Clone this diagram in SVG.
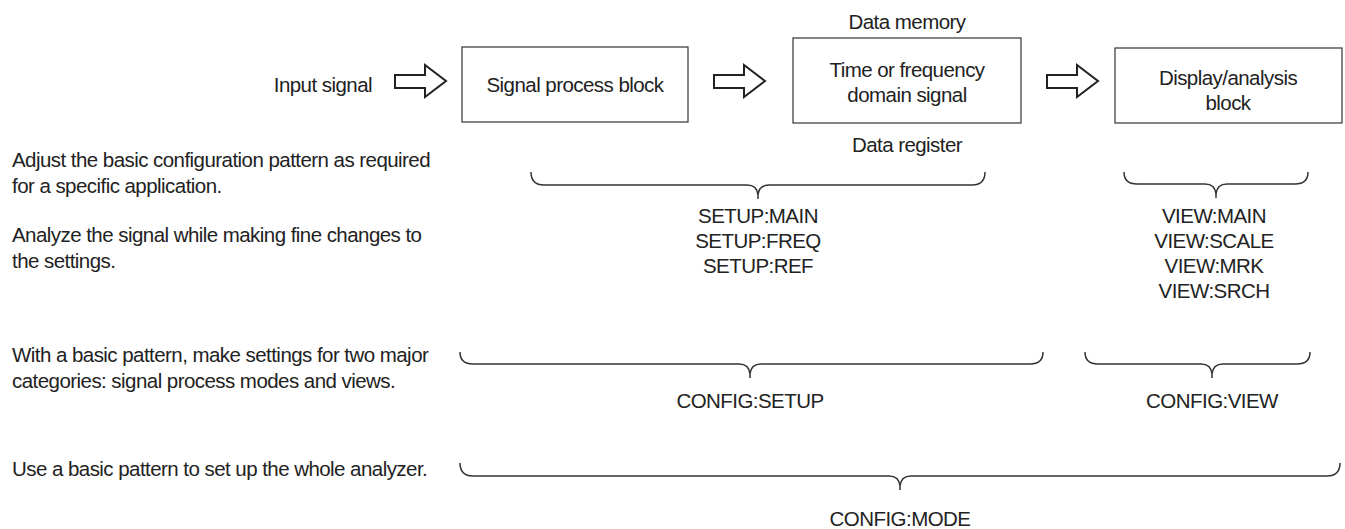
<svg xmlns="http://www.w3.org/2000/svg" width="1345" height="529" viewBox="0 0 1345 529">
<style>
text{font-family:"Liberation Sans",Arial,sans-serif;font-size:20.5px;letter-spacing:-0.55px;fill:#222}
.c{text-anchor:middle}
.e{text-anchor:end}
.box{fill:#fff;stroke:#333;stroke-width:1.2}
.arr{fill:#fff;stroke:#222;stroke-width:2;stroke-linejoin:miter}
.br{fill:none;stroke:#333;stroke-width:1.5}
</style>
<rect width="1345" height="529" fill="#fff"/>
<g id="input"><text class="e" x="372" y="92">Input signal</text></g>
<g id="signal-process"><rect class="box" x="462" y="47" width="226" height="75"/><text class="c" x="575" y="92">Signal process block</text></g>
<g id="data-memory"><text class="c" x="907" y="29">Data memory</text>
<rect class="box" x="793" y="38" width="228" height="85"/>
<text class="c" x="907" y="77">Time or frequency</text><text class="c" x="907" y="102">domain signal</text>
<text class="c" x="907" y="152">Data register</text></g>
<g id="display"><rect class="box" x="1115" y="48" width="227" height="75"/><text class="c" x="1228" y="85">Display/analysis</text><text class="c" x="1228" y="110">block</text></g>
<g id="connectors">
<path class="arr" d="M395 75 H425 V65 L446 81 L425 97 V88 H395 Z"/>
<path class="arr" d="M714 75 H744 V65 L765 81 L744 97 V88 H714 Z"/>
<path class="arr" d="M1047 75 H1077 V65 L1098 81 L1077 97 V88 H1047 Z"/>
<path class="br" d="M531 172 Q531 185 544 185 L747 185 Q757 185 758 195 L758 199 M985 172 Q985 185 972 185 L769 185 Q759 185 758 195"/>
<path class="br" d="M1124 172 Q1124 184 1137 184 L1205 184 Q1215 184 1216 194 L1216 198 M1308 172 Q1308 184 1295 184 L1227 184 Q1217 184 1216 194"/>
<path class="br" d="M460 352 Q460 364 473 364 L739 364 Q749 364 750 374 L750 378 M1043 352 Q1043 364 1030 364 L761 364 Q751 364 750 374"/>
<path class="br" d="M1085 352 Q1085 364 1098 364 L1201 364 Q1211 364 1212 374 L1212 378 M1310 352 Q1310 364 1297 364 L1223 364 Q1213 364 1212 374"/>
<path class="br" d="M460 463 Q460 476 473 476 L889 476 Q899 476 900 486 L900 490 M1340 463 Q1340 476 1327 476 L911 476 Q901 476 900 486"/>
</g>
<g id="setup-list"><text class="c" x="758" y="223">SETUP:MAIN</text><text class="c" x="758" y="248">SETUP:FREQ</text><text class="c" x="758" y="273">SETUP:REF</text></g>
<g id="view-list"><text class="c" x="1214" y="223">VIEW:MAIN</text><text class="c" x="1214" y="248">VIEW:SCALE</text><text class="c" x="1214" y="273">VIEW:MRK</text><text class="c" x="1214" y="298">VIEW:SRCH</text></g>
<g id="config-setup"><text class="c" x="750" y="408">CONFIG:SETUP</text></g>
<g id="config-view"><text class="c" x="1212" y="408">CONFIG:VIEW</text></g>
<g id="config-mode"><text class="c" x="900" y="526">CONFIG:MODE</text></g>
<g id="notes">
<text x="12" y="167">Adjust the basic configuration pattern as required</text>
<text x="12" y="193">for a specific application.</text>
<text x="12" y="242">Analyze the signal while making fine changes to</text>
<text x="12" y="268">the settings.</text>
<text x="12" y="362">With a basic pattern, make settings for two major</text>
<text x="12" y="388">categories: signal process modes and views.</text>
<text x="12" y="476">Use a basic pattern to set up the whole analyzer.</text>
</g>
</svg>
